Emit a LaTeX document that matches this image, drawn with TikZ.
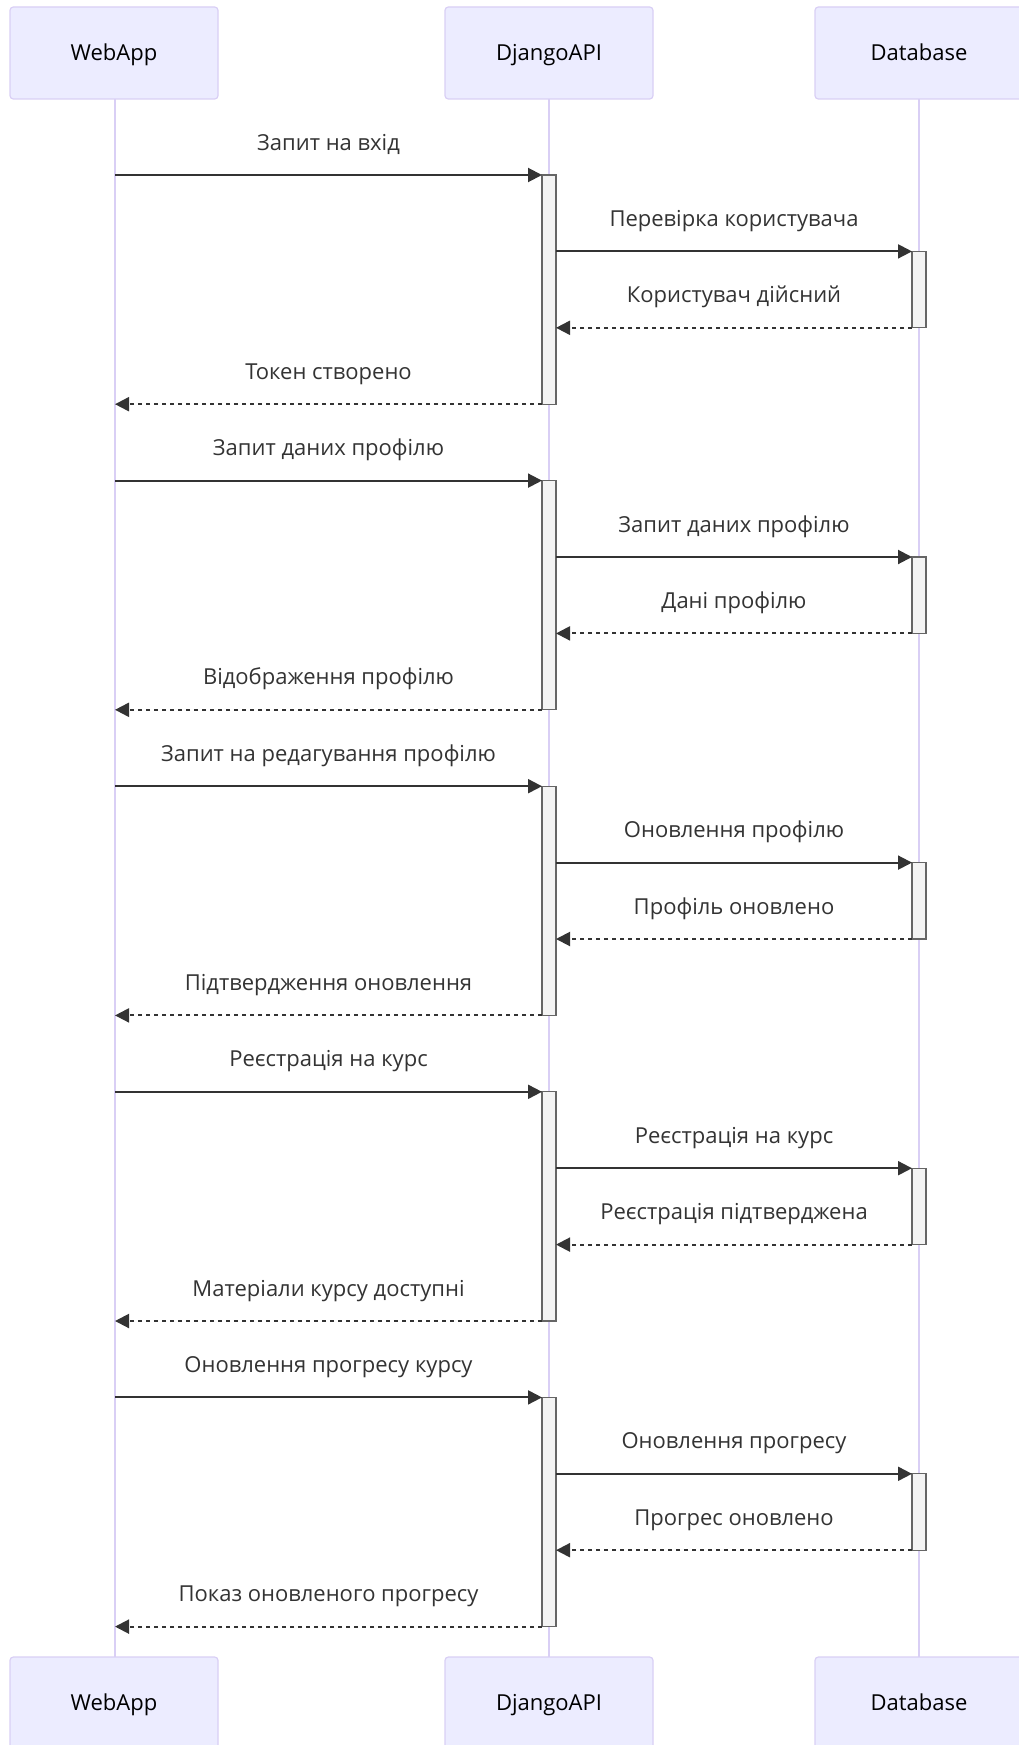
\documentclass[tikz,border=0pt]{standalone}
\usepackage{fontspec}
\setmainfont{Open Sans}
\usetikzlibrary{arrows.meta}
\definecolor{actfill}{HTML}{ECECFF}
\definecolor{actborder}{HTML}{D9CFF5}
\definecolor{txt}{HTML}{333333}
\definecolor{actvfill}{HTML}{F4F4F4}
\definecolor{actvborder}{HTML}{666666}
\newcommand{\fsz}{\fontsize{16.5pt}{20pt}\selectfont}
\begin{document}
\begin{tikzpicture}[x=0.75pt,y=-0.75pt,
  actor/.style={draw=actborder, fill=actfill, line width=0.9pt, rounded corners=2.5pt,
    minimum width=156pt, minimum height=69pt, inner sep=0pt, font=\fsz, text=black,
    text height=11.8pt, text depth=0pt},
  lifeline/.style={draw=actborder, line width=1.2pt},
  msg/.style={draw=txt, line width=1.5pt, -{Triangle[length=10.5pt,width=10.5pt]}},
  ret/.style={msg, dash pattern=on 3pt off 3pt},
  lbl/.style={font=\fsz, text=txt, anchor=base, inner sep=0pt},
  activ/.style={draw=actvborder, fill=actvfill, line width=1pt}
]
\clip (0,0) rectangle (1019,1745);
% lifelines
\coordinate (wtop) at (115,99);  \coordinate (wbot) at (115,1657);
\coordinate (atop) at (549,99);  \coordinate (abot) at (549,1657);
\coordinate (btop) at (919,99);  \coordinate (bbot) at (919,1657);
\draw[lifeline] (wtop) -- (wbot);
\draw[lifeline] (atop) -- (abot);
\draw[lifeline] (btop) -- (bbot);
% actors
\node[actor] (wT) at (114,53) {WebApp};
\node[actor] (aT) at (549,53) {DjangoAPI};
\node[actor] (bT) at (919,53) {Database};
\node[actor] (wB) at (114,1703) {WebApp};
\node[actor] (aB) at (549,1703) {DjangoAPI};
\node[actor] (bB) at (919,1703) {Database};
% messages
\foreach \k/\la/\lb/\lc/\ld in {
  0/{Запит на вхід}/{Перевірка користувача}/{Користувач дійсний}/{Токен створено},
  1/{Запит даних профілю}/{Запит даних профілю}/{Дані профілю}/{Відображення профілю},
  2/{Запит на редагування профілю}/{Оновлення профілю}/{Профіль оновлено}/{Підтвердження оновлення},
  3/{Реєстрація на курс}/{Реєстрація на курс}/{Реєстрація підтверджена}/{Матеріали курсу доступні},
  4/{Оновлення прогресу курсу}/{Оновлення прогресу}/{Прогрес оновлено}/{Показ оновленого прогресу}}{
  \pgfmathsetmacro{\ya}{175+305.6*\k}
  \pgfmathsetmacro{\yb}{\ya+76.4}
  \pgfmathsetmacro{\yc}{\ya+152.8}
  \pgfmathsetmacro{\yd}{\ya+229.2}
  \draw[activ] (542,\ya) rectangle (556,\yd);
  \draw[activ] (912,\yb) rectangle (926,\yc);
  \coordinate (wa\k) at (115,\ya);
  \coordinate (aa\k) at (542,\ya);
  \coordinate (ab\k) at (556,\yb);
  \coordinate (bb\k) at (912,\yb);
  \coordinate (bc\k) at (912,\yc);
  \coordinate (ac\k) at (556,\yc);
  \coordinate (ad\k) at (542,\yd);
  \coordinate (wd\k) at (115,\yd);
  \draw[msg] (wa\k) -- (aa\k);
  \draw[msg] (ab\k) -- (bb\k);
  \draw[ret] (bc\k) -- (ac\k);
  \draw[ret] (ad\k) -- (wd\k);
  \node[lbl] (la\k) at (328.5,\ya-25) {\la};
  \node[lbl] (lb\k) at (734,\yb-25) {\lb};
  \node[lbl] (lc\k) at (734,\yc-25) {\lc};
  \node[lbl] (ld\k) at (328.5,\yd-25) {\ld};
}
\end{tikzpicture}
\end{document}
